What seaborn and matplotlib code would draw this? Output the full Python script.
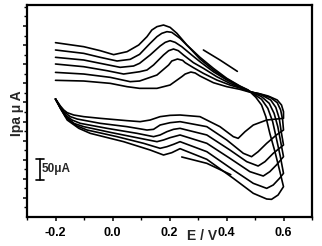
import matplotlib
matplotlib.use("Agg")
import matplotlib.pyplot as plt
import seaborn as sns
import pandas as pd
import numpy as np

# ---- data (E in V, I in uA) ----
# six cyclic voltammograms: forward (lower) branch, switching region, return (upper) branch
cv1_E = [-0.200, -0.183, -0.171, -0.159, -0.136, -0.101, -0.043, 0.051, 0.097, 0.132, 0.167, 0.202, 0.237,
         0.307, 0.377, 0.424, 0.441, 0.465, 0.494, 0.541, 0.600,
         0.600, 0.593, 0.578, 0.546, 0.511, 0.476,
         0.447, 0.401, 0.354, 0.307, 0.290, 0.275, 0.255, 0.243, 0.202, 0.156, 0.095, 0.051, -0.008, -0.101, -0.200]
cv1_I = [308.9, 290.6, 280.1, 273.1, 267.0, 262.7, 258.3, 252.2, 249.6, 253.9, 262.7, 266.1, 267.0,
         262.7, 236.5, 210.3, 205.9, 223.4, 240.8, 253.9, 258.3,
         275.7, 293.2, 306.3, 316.8, 323.7, 328.1,
         334.2, 341.2, 351.6, 369.1, 377.0, 379.5, 374.3, 367.3, 345.5, 336.8, 336.8, 341.2, 349.9, 356.0, 357.8]

cv2_E = [-0.200, -0.185, -0.171, -0.148, -0.124, -0.043, 0.051, 0.121, 0.144, 0.167, 0.202, 0.237,
         0.331, 0.401, 0.459, 0.488, 0.511, 0.541, 0.575, 0.600,
         0.597, 0.590, 0.578, 0.555, 0.517, 0.476,
         0.447, 0.412, 0.366, 0.319, 0.284, 0.255, 0.246, 0.228, 0.208, 0.197, 0.156, 0.095, 0.062, -0.008, -0.101, -0.200]
cv2_I = [308.9, 290.6, 275.7, 262.7, 256.5, 245.2, 236.5, 227.7, 229.5, 240.8, 246.9, 249.6,
         236.5, 201.6, 166.7, 157.9, 171.0, 192.9, 214.7, 227.7,
         253.9, 280.1, 299.3, 312.4, 322.0, 329.0,
         337.7, 345.5, 358.6, 376.0, 390.9, 404.0, 410.1, 413.6, 408.4, 397.9, 371.7, 356.0, 354.3, 365.6, 374.3, 378.6]

cv3_E = [-0.200, -0.183, -0.165, -0.142, -0.113, -0.019, 0.086, 0.144, 0.167, 0.191, 0.214, 0.237,
         0.331, 0.412, 0.471, 0.511, 0.535, 0.564, 0.600,
         0.592, 0.585, 0.573, 0.555, 0.523, 0.476,
         0.447, 0.412, 0.366, 0.319, 0.284, 0.249, 0.231, 0.214, 0.197, 0.179, 0.144, 0.121, 0.095, 0.039, -0.019, -0.101, -0.200]
cv3_I = [308.9, 287.1, 267.0, 253.9, 245.2, 232.1, 219.0, 210.3, 214.7, 223.4, 229.5, 232.1,
         214.7, 175.4, 144.9, 133.5, 144.9, 166.7, 188.5,
         223.4, 258.3, 287.1, 306.3, 319.4, 329.8,
         339.4, 349.9, 367.3, 389.2, 404.0, 424.1, 435.4, 439.8, 435.4, 424.1, 397.9, 384.8, 380.3, 374.3, 383.0, 393.5, 400.5]

cv4_E = [-0.200, -0.183, -0.165, -0.136, -0.101, -0.008, 0.097, 0.156, 0.179, 0.202, 0.237,
         0.331, 0.412, 0.482, 0.529, 0.552, 0.575, 0.600,
         0.590, 0.580, 0.567, 0.550, 0.523, 0.476,
         0.447, 0.401, 0.354, 0.307, 0.278, 0.243, 0.220, 0.202, 0.185, 0.167, 0.132, 0.095, 0.074, 0.027, -0.031, -0.101, -0.200]
cv4_I = [308.9, 284.5, 262.7, 245.2, 236.5, 221.6, 205.9, 197.2, 201.6, 207.7, 214.7,
         192.9, 153.6, 118.7, 107.3, 118.7, 136.1, 157.9,
         197.2, 236.5, 271.4, 297.5, 315.0, 330.7,
         341.2, 358.6, 380.3, 406.6, 424.1, 445.9, 457.2, 461.6, 457.2, 447.6, 424.1, 402.3, 395.3, 391.8, 400.5, 411.0, 418.0]

cv5_E = [-0.200, -0.180, -0.159, -0.124, -0.089, 0.016, 0.109, 0.167, 0.191, 0.214, 0.237,
         0.331, 0.424, 0.494, 0.541, 0.564, 0.586, 0.600,
         0.589, 0.575, 0.562, 0.545, 0.523, 0.476,
         0.447, 0.401, 0.354, 0.307, 0.272, 0.237, 0.208, 0.191, 0.173, 0.156, 0.132, 0.095, 0.062, 0.016, -0.043, -0.101, -0.200]
cv5_I = [308.9, 281.9, 258.3, 238.2, 227.7, 210.3, 192.9, 179.8, 184.1, 190.2, 197.2,
         171.0, 123.0, 88.1, 75.0, 83.8, 101.2, 114.3,
         157.9, 205.9, 249.6, 284.5, 308.1, 331.6,
         342.0, 361.3, 384.8, 413.6, 441.5, 467.7, 483.4, 485.2, 480.8, 472.1, 454.6, 425.8, 412.7, 408.4, 418.0, 428.4, 437.2]

cv6_E = [-0.200, -0.179, -0.159, -0.118, -0.078, 0.039, 0.132, 0.179, 0.208, 0.237,
         0.331, 0.424, 0.494, 0.541, 0.558, 0.581, 0.600,
         0.586, 0.570, 0.552, 0.538, 0.523, 0.503, 0.476,
         0.447, 0.401, 0.354, 0.307, 0.261, 0.226, 0.202, 0.179, 0.156, 0.138, 0.121, 0.092, 0.051, 0.004, -0.043, -0.101, -0.200]
cv6_I = [308.9, 280.1, 253.9, 232.1, 219.0, 197.2, 175.4, 162.3, 168.4, 178.9,
         151.0, 101.2, 62.0, 47.1, 46.2, 57.6, 79.4,
         123.0, 171.0, 219.0, 262.7, 293.2, 313.3, 332.5,
         342.9, 363.0, 389.2, 418.0, 450.3, 480.8, 496.5, 502.6, 498.3, 489.5, 472.1, 450.3, 432.8, 425.0, 435.4, 445.9, 456.4]

# scan-direction guide lines
guideA_E = [0.319, 0.377, 0.438]
guideA_I = [437.2, 411.0, 381.3]
guideB_E = [0.243, 0.331, 0.415]
guideB_I = [157.1, 140.5, 110.8]

x_ticks = [-0.2, 0.0, 0.2, 0.4, 0.6]
x_ticklabels = ["-0.2", "0.0", "0.2", "0.4", "0.6"]

# ---- build long table ----
series = [("cv1", cv1_E, cv1_I), ("cv2", cv2_E, cv2_I), ("cv3", cv3_E, cv3_I),
          ("cv4", cv4_E, cv4_I), ("cv5", cv5_E, cv5_I), ("cv6", cv6_E, cv6_I),
          ("guideA", guideA_E, guideA_I), ("guideB", guideB_E, guideB_I)]
frames = []
for name, e, i in series:
    frames.append(pd.DataFrame({"E": e, "I": i, "unit": name, "order": range(len(e))}))
df = pd.concat(frames, ignore_index=True)

sns.set_style("ticks")
plt.rcParams["font.family"] = ["Liberation Sans", "DejaVu Sans"]

fig = plt.figure(figsize=(3.22, 2.46), dpi=100)
ax = fig.add_axes([27/322, 29/246, 285/322, 212/246])

sns.lineplot(data=df, x="E", y="I", units="unit", estimator=None, sort=False,
             color="black", linewidth=1.2, ax=ax, legend=False,
             solid_joinstyle="round", solid_capstyle="round")

ax.set_xlim(-0.3, 0.7)
ax.set_ylim(0, 555)
ax.set_xticks(x_ticks)
ax.set_xticklabels(x_ticklabels, fontsize=9, fontweight="bold")
ax.set_xticks(np.arange(-0.3, 0.71, 0.1), minor=True)
ax.set_yticks(np.arange(50, 501, 50))
ax.set_yticks(np.arange(25, 551, 25), minor=True)
ax.tick_params(axis="y", labelleft=False)
ax.tick_params(which="major", direction="out", length=3.2, width=1.1, pad=4.0, colors="black")
ax.tick_params(which="minor", direction="out", length=2.5, width=1.0, colors="black")
ax.tick_params(top=False, right=False, which="both")
ax.set_xlabel("")
ax.set_ylabel("")
for s in ax.spines.values():
    s.set_visible(True)
    s.set_linewidth(1.6)
    s.set_color("black")

# 50 uA scale bar
ax.plot([-0.255, -0.255], [97, 152], color="black", lw=1.2)
ax.plot([-0.270, -0.241], [97, 97], color="black", lw=1.2)
ax.plot([-0.270, -0.241], [152, 152], color="black", lw=1.2)
ax.text(-0.249, 124.5, "50μA", fontsize=8.5, fontweight="bold", ha="left", va="center")

fig.text(17/322, 1 - 113/246, "Ipa μ A", rotation=90, ha="center", va="center",
         fontsize=10, fontweight="bold")
fig.text(202/322, 1 - 236/246, "E / V", ha="center", va="center",
         fontsize=10, fontweight="bold")

fig.savefig("out.png", dpi=100)
